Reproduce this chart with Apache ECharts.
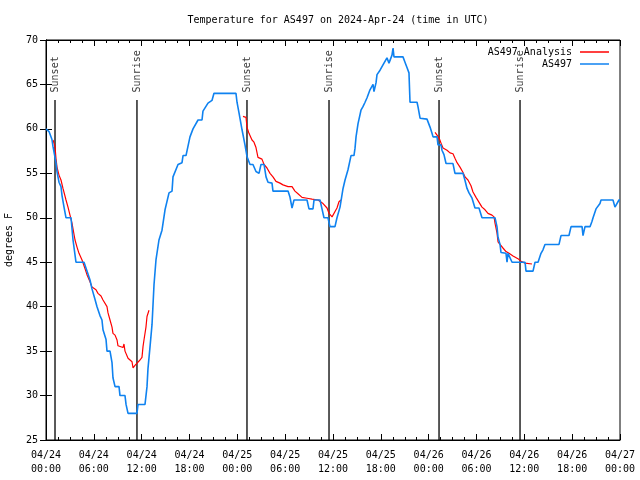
<!DOCTYPE html>
<html>
<head>
<meta charset="utf-8">
<script src="https://cdn.jsdelivr.net/npm/echarts@6/dist/echarts.min.js"></script>
<style>html,body{margin:0;padding:0;background:#fff}#c{width:640px;height:480px}</style>
</head>
<body>
<div id="c"></div>
<script>
// Hours since 2024-04-24 00:00 UTC
var blueHours = [0.00,0.38,0.75,0.88,1.13,1.25,1.38,1.63,1.88,2.01,2.26,2.51,3.14,3.39,3.76,4.77,5.14,5.52,5.77,6.15,6.40,6.77,7.02,7.15,7.53,7.65,8.03,8.28,8.40,8.66,9.16,9.28,9.91,10.04,10.29,11.41,11.54,12.42,12.67,12.79,13.05,13.30,13.55,13.80,14.17,14.55,14.93,15.43,15.81,15.93,16.56,17.06,17.19,17.56,18.06,18.44,19.07,19.57,19.69,20.32,20.82,21.07,23.83,23.96,24.21,24.59,24.96,25.21,25.59,25.96,26.34,26.72,26.97,27.35,27.60,27.85,28.35,28.47,30.36,30.61,30.86,31.11,32.74,32.99,33.49,33.62,34.37,34.62,34.87,35.37,35.62,36.25,36.50,36.88,37.26,37.51,37.88,38.26,38.63,38.76,38.89,39.14,39.51,39.76,40.02,40.27,40.64,41.02,41.14,41.40,41.52,41.90,42.27,42.52,42.77,43.02,43.40,43.53,43.65,44.78,45.03,45.28,45.53,45.66,46.54,46.66,46.92,47.79,48.17,48.42,48.55,49.05,49.17,49.55,49.67,49.92,50.18,51.05,51.30,52.31,52.56,52.81,53.06,53.44,53.81,54.31,54.69,56.32,56.57,56.70,56.95,57.07,57.70,57.83,57.95,58.20,58.46,60.09,60.21,61.09,61.34,61.72,62.09,62.34,62.59,64.35,64.60,65.60,65.86,67.24,67.36,67.61,68.24,68.49,68.62,68.99,69.49,69.62,71.12,71.37,71.62,71.87,72.00];
var blueTemps = [60,59.7,58.8,58,56.8,56.2,55.2,54,53.5,52.5,51.2,50,50,47.5,45,45,44,43,42,40.8,40,39,38.5,37.4,36.3,35,35,33.7,32,31,31,30,30,29,28,28,29,29,31,33,35.5,38,42.5,45.3,47.5,48.6,50.9,52.8,53,54.6,56,56.2,57,57,59.1,60,61,61,62,62.9,63.2,64,64,63,61.8,59.9,58.2,56.9,56,56,55.2,55,56,56,54.6,54,53.9,53,53,52.3,51.1,52,52,51,51,52,52,51,50,50,49,49,50,51.2,53.3,54.25,55.4,57,57,57.8,59.1,60.6,62.1,62.5,63,63.5,64.4,65,64.2,65.2,66.1,66.6,67.2,67.4,68,67.4,68.3,69.1,68.1,68.1,67.5,66.9,66.3,63,63,62.5,61.2,61.1,60.2,59.5,59.1,59.1,58.2,58.2,57.6,57.1,56.1,56.1,55,55,54.2,53.3,52.8,52.2,51.1,51.1,50,50,49,47.8,47,46.1,46,45,46,46,45,45,44,44,45,45,46,46.4,47,47,48,48,49,49,48,49,49,49.6,50,51,51.6,52,52,51.2,51.2,52,52];

// Analysis segments (null = gap)
var redHours = [0.88,1.00,1.13,1.25,1.38,1.63,1.88,2.13,2.51,2.76,3.01,3.26,3.64,3.89,4.14,4.52,4.89,5.14,5.52,5.77,5.90,6.27,6.52,6.90,7.15,7.65,7.78,8.03,8.28,8.40,8.66,8.91,9.03,9.28,9.66,9.78,9.91,10.29,10.79,10.92,11.16,11.41,11.79,12.04,12.17,12.29,12.54,12.67,12.92,
  18.0,
  24.71,25.09,25.21,25.46,25.84,26.09,26.34,26.59,27.09,27.35,27.72,28.10,28.47,28.85,29.35,29.73,30.36,30.86,31.23,31.61,32.11,32.74,33.37,34.12,34.75,35.25,35.50,35.88,36.13,36.50,36.75,37.00,
  43.0,
  48.80,49.05,49.30,49.55,49.80,50.30,50.68,51.05,51.30,51.56,51.93,52.31,52.56,52.93,53.31,53.56,53.94,54.19,54.69,55.07,55.44,55.94,56.20,56.32,56.57,56.70,56.95,57.32,57.70,58.08,58.58,59.20,59.58,60.09,60.96];
var redTemps = [58.75,58.4,58,56.7,55.7,54.8,54.25,53.3,52,51.2,50.3,49.4,47.5,46.7,46,45.25,44.3,43.6,42.8,42.2,42.1,41.9,41.5,41.2,40.75,40,39.3,38.5,37.7,37,36.8,36.25,35.6,35.5,35.4,35.8,35,34.2,33.8,33.1,33.4,33.6,34,34.3,35.5,36.25,37.7,38.9,39.6,
  null,
  61.4,61.3,60.2,59.5,58.75,58.5,57.9,56.8,56.6,56,55.6,55,54.6,54.1,53.9,53.7,53.5,53.5,53,52.7,52.3,52.2,52.1,52,51.6,51.1,50.5,50.1,50.3,51.1,51.8,52,
  null,
  59.6,59.5,59,58.4,57.85,57.6,57.3,57.2,56.7,56.2,55.7,55.1,54.6,54.25,53.6,52.9,52.3,52.1,51.2,50.9,50.5,50.3,50.1,49.4,48.3,47.3,47,46.6,46.2,46,45.7,45.4,45.1,44.9,44.8];

var sunHours = [1.13, 11.41, 25.21, 35.50, 49.30, 59.46];
var sunLabels = ['Sunset','Sunrise','Sunset','Sunrise','Sunset','Sunrise'];
var yTicks = [25,30,35,40,45,50,55,60,65,70];

var FONT = 'DejaVu Sans Mono';
function zip(a,b){var r=[];for(var i=0;i<a.length;i++){r.push([a[i], b[i]===null?'-':b[i]]);}return r;}

var lineData = [], labelData = [];
for (var i=0;i<sunHours.length;i++){
  lineData.push([sunHours[i],25]); lineData.push([sunHours[i],63.25]); lineData.push([sunHours[i],'-']);
  labelData.push({value:[sunHours[i],64.1], name:sunLabels[i]});
}

var chart = echarts.init(document.getElementById('c'), null, {renderer:'canvas'});
var xAxisCommon = {
  type:'value', min:0, max:72, interval:6,
  axisLine:{show:true, lineStyle:{color:'#000', width:1}},
  axisTick:{show:true, inside:true, length:6, lineStyle:{color:'#000'}},
  minorTick:{show:true, splitNumber:4, length:3, lineStyle:{color:'#000'}},
  splitLine:{show:false}
};
var yAxisCommon = {
  type:'value', min:yTicks[0], max:yTicks[yTicks.length-1], interval:5,
  axisLine:{show:true, lineStyle:{color:'#000', width:1}},
  axisTick:{show:true, inside:true, length:6, lineStyle:{color:'#000'}},
  splitLine:{show:false}
};
chart.setOption({
  animation:false,
  backgroundColor:'#fff',
  title:{text:'Temperature for AS497 on 2024-Apr-24 (time in UTC)', left:333, top:10, textAlign:'center',
    textStyle:{fontFamily:FONT, fontSize:10, fontWeight:'normal', color:'#000'}},
  legend:{data:['AS497 Analysis','AS497'], orient:'vertical', right:26, top:42, align:'right',
    icon:'rect', itemWidth:29, itemHeight:1.5, itemGap:2,
    textStyle:{fontFamily:FONT, fontSize:10, color:'#000', padding:[0,3,0,0]}},
  grid:{left:46, right:20, top:40, bottom:40, show:true, borderColor:'#000', borderWidth:1,
    containLabel:false, outerBoundsMode:'none'},
  xAxis:[
    Object.assign({}, xAxisCommon, {position:'bottom',
      axisLabel:{fontFamily:FONT, fontSize:10, color:'#000', margin:8, lineHeight:14,
        formatter:function(v){var d=24+Math.floor(v/24); var h=v%24; return '04/'+d+'\n'+(h<10?'0':'')+h+':00';}}}),
    Object.assign({}, xAxisCommon, {position:'top', axisLabel:{show:false}})
  ],
  yAxis:[
    Object.assign({}, yAxisCommon, {position:'left', name:'degrees F', nameLocation:'middle', nameGap:32,
      nameTextStyle:{fontFamily:FONT, fontSize:10, color:'#000'},
      axisLabel:{fontFamily:FONT, fontSize:10, color:'#000', margin:8}}),
    Object.assign({}, yAxisCommon, {position:'right', axisLabel:{show:false}})
  ],
  series:[
    {name:'sunlines', type:'line', data:lineData, symbol:'none', connectNulls:false, silent:true,
      lineStyle:{color:'#000', width:1.3}, z:1},
    {name:'sunlabels', type:'scatter', data:labelData, symbolSize:0, silent:true,
      label:{show:true, formatter:'{b}', position:[0,0], rotate:90, align:'left', verticalAlign:'middle',
        fontFamily:FONT, fontSize:10, color:'#000'}},
    {name:'AS497 Analysis', type:'line', data:zip(redHours, redTemps), symbol:'none', connectNulls:false,
      color:'#ff0000', lineStyle:{color:'#ff0000', width:1.2}, z:2},
    {name:'AS497', type:'line', data:zip(blueHours, blueTemps), symbol:'none',
      color:'#0f82f0', lineStyle:{color:'#0f82f0', width:1.6}, z:3}
  ]
});
</script>
</body>
</html>
